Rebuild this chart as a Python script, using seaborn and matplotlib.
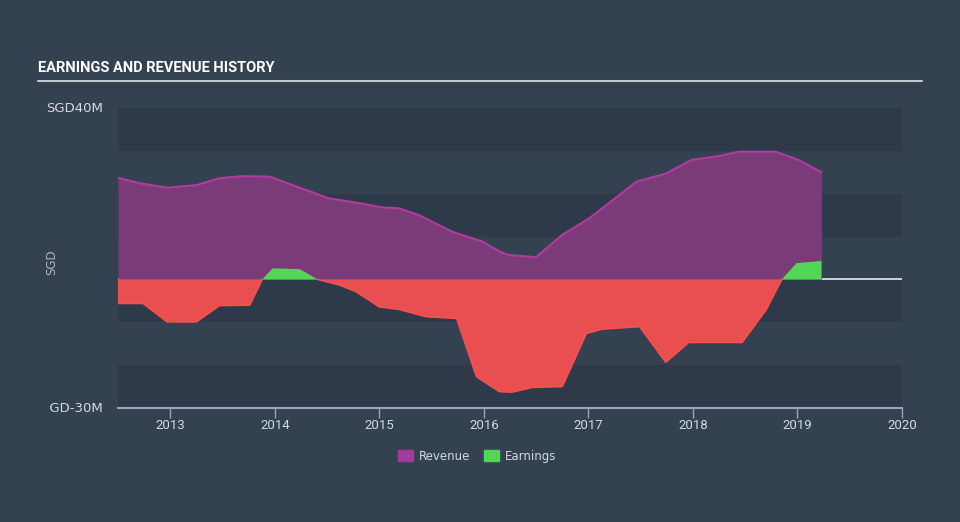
import numpy as np
import pandas as pd
import matplotlib
matplotlib.use("Agg")
import matplotlib.pyplot as plt
import seaborn as sns
from matplotlib.transforms import Bbox, TransformedBbox
from matplotlib.patches import Patch

# ---- data (SGD millions) ----
rev_years = [2012.5, 2012.72, 2012.97, 2013.25, 2013.47, 2013.69, 2013.95, 2014.17,
             2014.52, 2014.81, 2015.03, 2015.19, 2015.38, 2015.70, 2015.99, 2016.15,
             2016.24, 2016.50, 2016.75, 2017.01, 2017.46, 2017.74, 2017.99, 2018.25,
             2018.44, 2018.79, 2019.01, 2019.23]
revenue = [23.7, 22.4, 21.4, 22.0, 23.6, 24.1, 24.0, 22.0,
           18.9, 17.8, 16.8, 16.6, 15.0, 11.1, 8.8, 6.5,
           5.7, 5.2, 10.4, 14.3, 22.8, 24.7, 27.9, 28.8,
           29.8, 29.8, 27.9, 25.0]

earn_years = [2012.5, 2012.74, 2012.97, 2013.25, 2013.47, 2013.76, 2013.88, 2013.98,
              2014.24, 2014.41, 2014.62, 2014.78, 2015.0, 2015.19, 2015.45, 2015.74,
              2015.93, 2016.15, 2016.27, 2016.46, 2016.75, 2016.98, 2017.13, 2017.49,
              2017.74, 2017.96, 2018.47, 2018.70, 2018.85, 2018.99, 2019.23]
earnings = [-5.6, -5.6, -9.9, -9.9, -6.1, -6.0, 0.0, 2.6,
            2.4, 0.0, -1.3, -2.9, -6.4, -7.0, -8.7, -9.1,
            -22.7, -26.2, -26.3, -25.2, -25.0, -12.6, -11.6, -11.0,
            -19.3, -14.7, -14.7, -7.1, 0.0, 3.8, 4.3]

year_ticks = [2013, 2014, 2015, 2016, 2017, 2018, 2019, 2020]
title = "EARNINGS AND REVENUE HISTORY"

# ---- style ----
BG = "#344151"
BAND = "#2e3a49"
REV_FILL = "#7b3a78"
REV_LINE = "#b13b9e"
NEG_FILL = "#e94e50"
NEG_LINE = "#f5514f"
POS_FILL = "#52d655"
TXT = "#d4d9df"
AXIS = "#98a6b8"
NARROW = ["Roboto", "DejaVu Sans"]

sns.set_theme(style="dark")
plt.rcParams["font.family"] = ["DejaVu Sans"]

fig = plt.figure(figsize=(9.6, 5.22), dpi=100, facecolor=BG)
ax = fig.add_axes([118/960, 1-408/522, (902-118)/960, 300/522])
ax.set_facecolor(BG)

ax.set_xlim(2012.5, 2020)
ax.set_ylim(-30, 40)

# alternating bands
for lo in [30, 10, -10, -30]:
    ax.axhspan(lo, lo + 10, color=BAND, lw=0, zorder=0)

# zero line
ax.axhline(0, color="#e8ecf0", lw=1.2, zorder=1)

rev_df = pd.DataFrame({"year": rev_years, "value": revenue})

ry = np.array(rev_years); rv = np.array(revenue)
ey = np.array(earn_years); ev = np.array(earnings)

ax.fill_between(ry, 0, rv, color=REV_FILL, lw=0, zorder=2)
sns.lineplot(data=rev_df, x="year", y="value", ax=ax, color=REV_LINE, lw=1.5, zorder=3)

ax.fill_between(ey, 0, ev, where=ev <= 0, interpolate=True, color=NEG_FILL, lw=0, zorder=4)
ax.fill_between(ey, 0, ev, where=ev >= 0, interpolate=True, color=POS_FILL, lw=0, zorder=4)
neg_line = np.where(ev > 0, np.nan, ev)
ax.plot(ey, neg_line, color=NEG_LINE, lw=1.2, zorder=5)

# axes cosmetics
for s in ["top", "right", "left"]:
    ax.spines[s].set_visible(False)
ax.spines["bottom"].set_color(AXIS)
ax.spines["bottom"].set_linewidth(1.5)
ax.set_xticks(year_ticks)
ax.set_xticklabels([str(y) for y in year_ticks], color=TXT, fontsize=9.5, family=NARROW)
ax.tick_params(axis="x", length=7, color=AXIS, width=1, pad=1, bottom=True)
ax.set_yticks([])
ax.set_xlabel("")
ax.set_ylabel("")
ax.grid(False)

# y labels clipped on the left
for txt, y, cx in [("SGD40M", 108, 47), ("SGD-30M", 408, 50)]:
    t = fig.text(103/960, 1 - y/522, txt, ha="right", va="center", color=TXT, fontsize=9.5)
    t.set_clip_box(TransformedBbox(Bbox([[cx/960, 0], [1, 1]]), fig.transFigure))
    t.set_clip_on(True)

fig.text(52/960, 1 - 262/522, "SGD", rotation=90, ha="center", va="center",
         color="#aab4c0", fontsize=8.5)

# title and rule
fig.text(38/960, 1 - 68/522, title, ha="left", va="center", color="white",
         fontsize=10.5, fontweight="bold", family=NARROW)
fig.add_artist(plt.Line2D([38/960, 922/960], [1 - 81/522, 1 - 81/522],
                          color="#c3c8ce", lw=1.5))

# legend
handles = [Patch(color="#a63a98", label="Revenue"), Patch(color=POS_FILL, label="Earnings")]
leg = fig.legend(handles=handles, loc="center", bbox_to_anchor=(477/960, 1 - 456/522),
                 ncol=2, frameon=False, fontsize=8.5, handlelength=1.27, handleheight=1.0,
                 columnspacing=1.2, handletextpad=0.5)
for t in leg.get_texts():
    t.set_color(TXT)

fig.savefig("out.png", dpi=100, facecolor=BG)
